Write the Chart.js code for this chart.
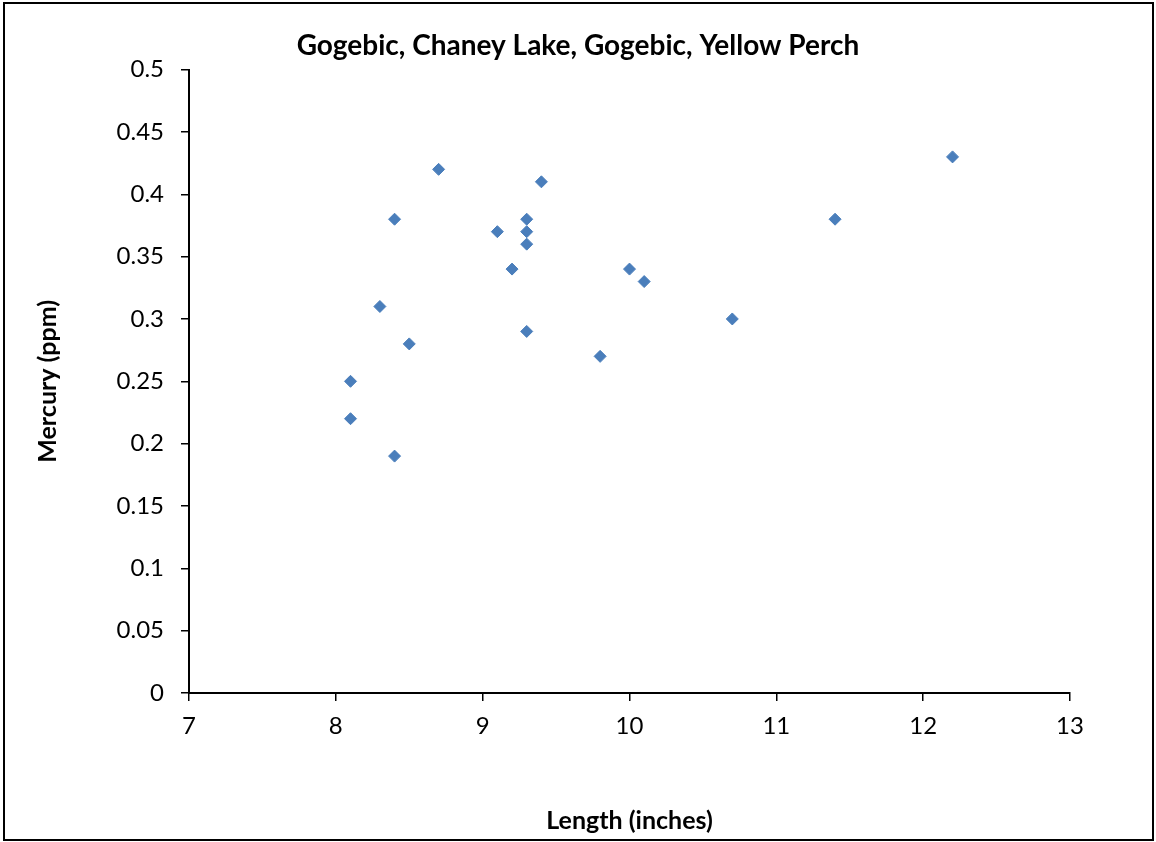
<!DOCTYPE html>
<html lang="en">
<head>
    <meta charset="UTF-8">
    <title>Gogebic, Chaney Lake, Yellow Perch</title>
    <style>
        html, body { margin: 0; padding: 0; background: #fff; }
        #wrap { position: relative; width: 1156px; height: 842px; }
        #frame {
            position: absolute; left: 3px; top: 2px; width: 1147px; height: 835px;
            border: 2px solid #000; pointer-events: none;
        }
    </style>
</head>
<body>
    <div id="wrap">
        <canvas id="myChart" width="1156" height="842"></canvas>
        <div id="frame"></div>
    </div>

    <script src="https://cdn.jsdelivr.net/npm/chart.js@4"></script>
    <script>
        // fish length (inches) and mercury (ppm)
        let lengths = [8.1, 8.1, 8.3, 8.4, 8.4, 8.5, 8.7, 9.1, 9.2, 9.3, 9.3, 9.3, 9.3, 9.4, 9.8, 10.0, 10.1, 10.7, 11.4, 12.2]
        let mercury = [0.25, 0.22, 0.31, 0.38, 0.19, 0.28, 0.42, 0.37, 0.34, 0.38, 0.37, 0.36, 0.29, 0.41, 0.27, 0.34, 0.33, 0.30, 0.38, 0.43]
        let xTicks = [7, 8, 9, 10, 11, 12, 13]
        let yTicks = [0, 0.05, 0.1, 0.15, 0.2, 0.25, 0.3, 0.35, 0.4, 0.45, 0.5]

        const fontFamily = 'Lato, "Open Sans", sans-serif'
        const points = lengths.map((x, i) => ({ x: x, y: mercury[i] }))

        // center the chart title on the whole canvas, not on the padded area
        const centerTitle = {
            id: 'centerTitle',
            afterLayout(chart) {
                if (chart.titleBlock) {
                    chart.titleBlock.left = 0
                    chart.titleBlock.right = chart.width
                    chart.titleBlock.width = chart.width
                }
            }
        }

        var ctx = document.getElementById('myChart').getContext('2d');
        var chart = new Chart(ctx, {
            type: 'scatter',
            data: {
                datasets: [{
                    label: 'Yellow Perch',
                    data: points,
                    pointStyle: 'rectRot',
                    pointRadius: 6,
                    pointHoverRadius: 6,
                    backgroundColor: '#4A7EBB',
                    borderColor: '#4A7EBB',
                    borderWidth: 1
                }]
            },
            plugins: [centerTitle],
            options: {
                responsive: false,
                animation: false,
                layout: { padding: { left: 10, right: 86, top: 0, bottom: 0 } },
                plugins: {
                    legend: { display: false },
                    tooltip: { enabled: false },
                    title: {
                        display: true,
                        text: 'Gogebic, Chaney Lake, Gogebic, Yellow Perch',
                        color: '#000',
                        font: { family: fontFamily, size: 28, weight: 'bold', lineHeight: 1.2 },
                        padding: { top: 29, bottom: 7 }
                    }
                },
                scales: {
                    x: {
                        type: 'linear',
                        min: xTicks[0],
                        max: xTicks[xTicks.length - 1],
                        afterBuildTicks: s => { s.ticks = xTicks.map(v => ({ value: v })) },
                        afterFit: s => { s.height = 149 },
                        grid: { display: true, drawOnChartArea: false, drawTicks: true, tickLength: 8, color: '#000', lineWidth: 1.5 },
                        border: { display: true, color: '#000', width: 2 },
                        ticks: {
                            color: '#000',
                            padding: 11,
                            font: { family: fontFamily, size: 24 },
                            callback: v => String(v)
                        },
                        title: {
                            display: true,
                            text: 'Length (inches)',
                            color: '#000',
                            font: { family: fontFamily, size: 25, weight: 'bold', lineHeight: 1.2 },
                            padding: { top: 0, bottom: 6 }
                        }
                    },
                    y: {
                        type: 'linear',
                        min: yTicks[0],
                        max: yTicks[yTicks.length - 1],
                        afterBuildTicks: s => { s.ticks = yTicks.map(v => ({ value: v })) },
                        afterFit: s => { s.width = 179 },
                        grid: { display: true, drawOnChartArea: false, drawTicks: true, tickLength: 8, color: '#000', lineWidth: 1.5 },
                        border: { display: true, color: '#000', width: 2 },
                        ticks: {
                            color: '#000',
                            padding: 17,
                            font: { family: fontFamily, size: 24 },
                            callback: v => String(parseFloat(v.toFixed(2)))
                        },
                        title: {
                            display: true,
                            text: 'Mercury (ppm)',
                            color: '#000',
                            font: { family: fontFamily, size: 25, weight: 'bold', lineHeight: 1.2 },
                            padding: { top: 23, bottom: 0 }
                        }
                    }
                }
            }
        });
    </script>
</body>
</html>
